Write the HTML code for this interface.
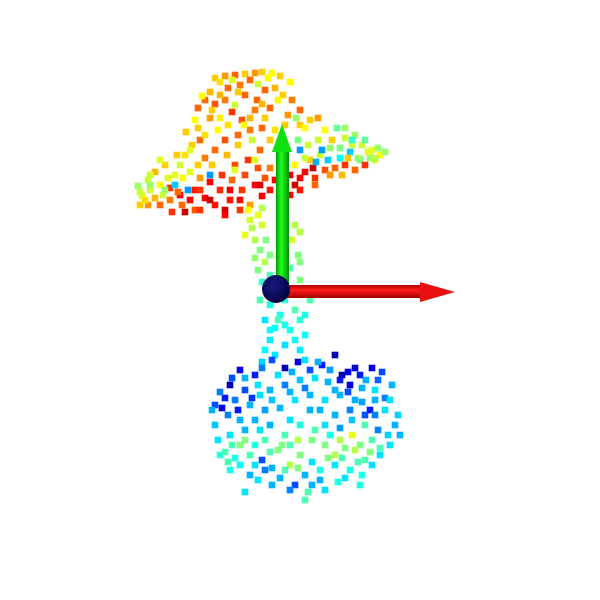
<!DOCTYPE html>
<html><head><meta charset="utf-8"><style>
html,body{margin:0;padding:0;background:#fff;}
svg{display:block;}
</style></head><body>
<svg id="chart" width="600" height="600" viewBox="0 0 600 600">
<defs>
<linearGradient id="gShaft" x1="0" x2="1" y1="0" y2="0">
<stop offset="0" stop-color="#00a000"/><stop offset="0.4" stop-color="#20ff20"/><stop offset="1" stop-color="#009000"/></linearGradient>
<linearGradient id="rShaft" x1="0" x2="0" y1="0" y2="1">
<stop offset="0" stop-color="#b00000"/><stop offset="0.4" stop-color="#ff1a1a"/><stop offset="1" stop-color="#a00000"/></linearGradient>
<radialGradient id="sph" cx="0.4" cy="0.35" r="0.7">
<stop offset="0" stop-color="#1a1a80"/><stop offset="1" stop-color="#000040"/></radialGradient>
</defs>
<g id="points"></g>
<g id="axes"></g>
</svg>
<script>
// screen-projected point positions and scalar value (0..1, jet colormap)
const canopyX=[215,225,235,245,255,262,272,280,290,250,240,228,210,205,198,215,225,245,265,275,283,292,300,288,270,255,242,228,210,198,186,192,185,180,190,205,215,225,238,250,262,270,260,248,235,222,210,200,195,205,215,230,242,255,265,262,250,240,225,210,190,180,170,160,150,142,138,148,155,165,175,160,172,185,148,140,163,177,200,232,257,300,310,318,325,332,345,355,362,372,380,370,360,350,340,330,320,310,300,305,315,325,335,345,355,365,375,295,285,300,290,275,280,318,337,322,348,313];
const canopyY=[78,76,75,74,73,72,73,76,82,80,85,88,92,100,108,104,100,95,90,88,95,100,110,115,108,110,120,125,118,128,132,145,155,165,172,158,150,140,135,130,128,140,150,160,165,175,182,178,190,198,205,200,190,185,178,196,205,210,210,200,200,195,188,185,190,196,186,180,172,165,175,205,212,212,205,205,195,155,140,112,100,125,120,118,130,140,138,135,145,150,155,158,160,152,158,148,155,160,150,172,178,170,168,165,170,165,160,185,190,178,175,180,160,140,128,150,158,168];
const canopyV=[.7,.75,.8,.7,.75,.7,.65,.7,.65,.8,.78,.8,.72,.8,.8,.82,.78,.8,.8,.72,.7,.78,.8,.75,.8,.78,.82,.68,.75,.7,.7,.7,.68,.6,.62,.78,.8,.82,.8,.78,.8,.7,.8,.85,.82,.85,.9,.75,.88,.9,.88,.88,.85,.9,.82,.9,.75,.85,.95,.95,.9,.9,.85,.65,.6,.62,.55,.6,.72,.7,.62,.8,.85,.95,.75,.7,.6,.7,.8,.85,.8,.7,.7,.75,.65,.7,.6,.55,.6,.62,.65,.55,.5,.35,.4,.55,.6,.7,.3,.9,.85,.82,.8,.85,.8,.85,.6,.95,.95,.9,.92,.9,.8,.6,.5,.3,.7,.95];
const canopy2X=[220,232,268,258,238,220,202,212,235,262,278,296,305,285,250,218,205,195,238,252,227,212,198,183,168,150,140,145,155,170,182,195,200,220,232,245,258,270,240,230,270,260,290,300,315,330,342,358,368,378,352,340,328,316,305,295,345,352,365,375,385,308,298,220,244,265,275,190,175,188,210,235,255,165,150,160,200,225,178];
const canopy2Y=[82,80,78,84,92,95,96,110,105,104,100,118,128,125,118,130,135,120,145,140,155,165,165,178,178,185,192,200,198,200,205,210,190,190,180,175,168,168,200,190,190,185,195,190,185,175,175,158,152,148,145,148,160,162,158,165,128,140,140,158,152,145,140,118,125,118,130,150,185,190,175,170,160,190,175,160,210,215,192];
const canopy2V=[.68,.62,.65,.6,.7,.72,.65,.7,.6,.72,.66,.55,.65,.7,.72,.65,.68,.65,.7,.6,.72,.7,.7,.65,.62,.55,.6,.68,.72,.78,.8,.82,.85,.86,.8,.83,.82,.78,.9,.92,.88,.93,.9,.88,.8,.75,.72,.55,.62,.55,.6,.52,.35,.32,.6,.65,.55,.45,.5,.58,.55,.6,.52,.66,.65,.7,.68,.62,.35,.3,.3,.62,.62,.55,.6,.62,.85,.9,.8];
const canopyShift=0.025;
const stemX=[258,262,255,260,265,258,270,262,282,295,280,298,290,300,285,270,295,280,265,300,275,290,270,305,285,265,250,245,268,310,278,248,262,300,292,255,300,272,260,290,305,285,270,295,275,262,300,252,266,285,270];
const stemY=[215,225,240,250,262,270,275,282,212,225,245,255,268,280,300,305,310,315,320,320,328,330,340,335,345,350,220,235,295,300,320,210,208,232,240,258,262,290,300,290,315,325,330,340,355,362,350,228,240,230,255];
const stemV=[.6,.58,.55,.5,.55,.5,.45,.42,.6,.55,.5,.5,.45,.5,.42,.4,.45,.4,.35,.42,.38,.4,.36,.38,.35,.37,.58,.6,.4,.45,.44,.62,.55,.55,.58,.52,.5,.42,.45,.45,.4,.4,.38,.38,.35,.33,.36,.55,.5,.55,.5];
const baseX=[240,255,272,285,298,310,322,335,348,360,372,382,392,385,375,362,350,340,328,315,300,285,270,258,245,230,225,215,235,250,265,280,295,310,325,340,355,370,385,395,400,390,378,365,352,340,325,228,240,215,218,230,245,255,270,225,235,250,262,278,290,300,312,325,340,352,360,372,380,365,350,335,320,305,295,280,265,250,245,308,320,345,360,285,300,290,335,240,230,265,375,260,320];
const baseY=[370,375,360,368,362,370,365,355,372,375,368,372,385,398,390,388,385,380,382,378,380,385,390,385,390,385,398,405,400,405,410,408,400,395,400,395,400,410,410,425,435,445,430,425,420,428,425,415,420,425,440,435,430,420,425,452,458,455,460,450,445,455,440,445,440,435,445,440,455,460,470,465,470,475,485,478,470,475,492,492,480,478,485,435,425,465,455,445,470,440,415,395,410];
const baseV=[.1,.15,.2,.05,.1,.2,.15,.05,.1,.15,.1,.2,.3,.25,.35,.3,.1,.15,.3,.35,.32,.25,.3,.35,.2,.05,.15,.2,.25,.3,.28,.3,.35,.3,.35,.3,.3,.15,.35,.3,.3,.35,.25,.45,.32,.28,.35,.25,.3,.32,.35,.35,.3,.3,.3,.45,.4,.45,.2,.5,.45,.5,.5,.5,.55,.6,.5,.45,.35,.45,.4,.35,.4,.3,.2,.3,.25,.3,.35,.45,.3,.35,.4,.45,.4,.55,.55,.5,.4,.45,.25,.35,.3];
const base2X=[262,278,292,305,318,330,342,355,366,378,245,232,220,212,222,238,252,272,290,305,335,348,362,375,390,398,388,380,370,355,345,330,315,298,282,270,255,245,232,220,228,240,255,272,285,298,312,328,342,358,372,362,338,325,312,290,272,258,305,260,290,310,335,350,365];
const base2Y=[368,375,372,360,362,370,375,368,380,380,378,378,392,410,408,410,398,400,392,388,390,392,402,400,400,415,435,448,452,450,448,435,430,440,445,452,445,440,445,455,462,465,465,468,470,468,462,458,458,462,465,475,482,490,485,490,485,480,500,430,420,410,415,410,415];
const base2V=[.25,.35,.3,.35,.3,.28,.05,.08,.3,.22,.3,.2,.25,.3,.1,.15,.18,.32,.3,.25,.3,.2,.28,.3,.35,.33,.33,.45,.5,.55,.5,.4,.45,.55,.5,.45,.4,.5,.45,.42,.45,.38,.35,.3,.45,.5,.35,.5,.45,.45,.35,.4,.4,.35,.3,.25,.3,.35,.45,.35,.35,.3,.3,.25,.2];

function jet(v){
  const r=Math.min(1,Math.max(0,1.5-Math.abs(4*v-3)));
  const g=Math.min(1,Math.max(0,1.5-Math.abs(4*v-2)));
  const b=Math.min(1,Math.max(0,1.5-Math.abs(4*v-1)));
  return `rgb(${Math.round(r*255)},${Math.round(g*255)},${Math.round(b*255)})`;
}
const NS='http://www.w3.org/2000/svg';
const layer=document.getElementById('points');
function drawSet(xs,ys,vs,shift,name){
  for(let i=0;i<xs.length;i++){
    const r=document.createElementNS(NS,'rect');
    r.setAttribute('x',xs[i]-3.3);r.setAttribute('y',ys[i]-3.3);
    r.setAttribute('width',6.6);r.setAttribute('height',6.6);
    r.setAttribute('fill',jet(vs[i]-shift));
    
    
    layer.appendChild(r);
  }
}
drawSet(canopyX,canopyY,canopyV,canopyShift,'canopy-point');
drawSet(canopy2X,canopy2Y,canopy2V,canopyShift,'canopy-point');
drawSet(stemX,stemY,stemV,0,'stem-point');
drawSet(baseX,baseY,baseV,0,'base-point');
drawSet(base2X,base2Y,base2V,0,'base-point');

const axes=document.getElementById('axes');
axes.innerHTML=`
<rect x="276" y="150" width="13" height="140" fill="url(#gShaft)"/>
<polygon points="272,152 292,152 282,124" fill="#10e010"/>
<rect x="276" y="285" width="146" height="13" fill="url(#rShaft)"/>
<polygon points="420,282 420,302 455,292" fill="#e81010"/>
<circle cx="276" cy="289" r="14" fill="url(#sph)"/>`;
</script>
</body></html>
